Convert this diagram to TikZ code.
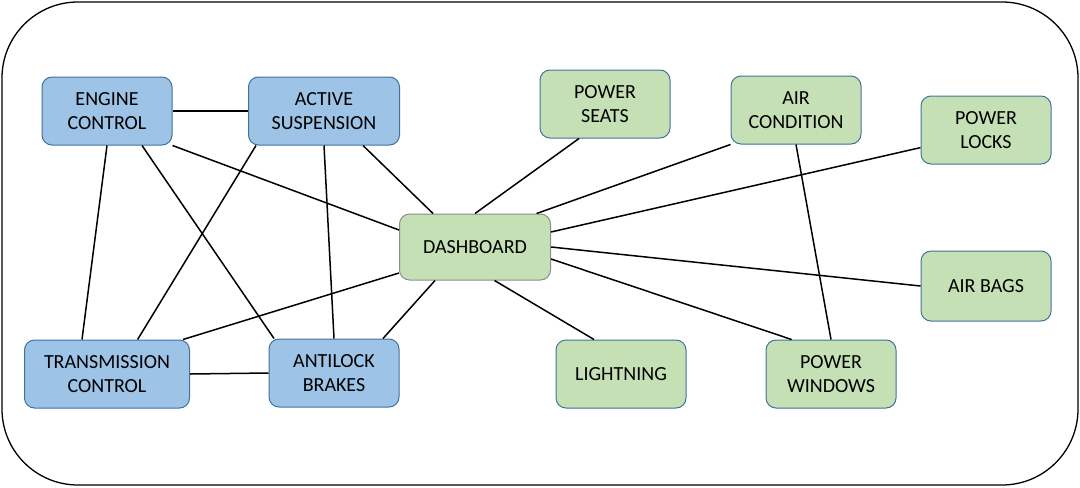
\documentclass[tikz,border=0pt]{standalone}
\usepackage{fontspec}
\setmainfont{Carlito}
\definecolor{ecublue}{HTML}{9DC3E6}
\definecolor{ecugreen}{HTML}{C5E0B4}
\definecolor{ecuedge}{HTML}{41719C}
\definecolor{dashedge}{HTML}{8C8C8C}
\begin{document}
\begin{tikzpicture}[x=0.5pt,y=-0.5pt,
    unit/.style={draw=ecuedge,line width=0.5pt,rounded corners=5pt,align=center,
      minimum width=65pt,minimum height=34pt,inner sep=2pt,
      font=\fontsize{10}{12}\selectfont},
    blueunit/.style={unit,fill=ecublue},
    greenunit/.style={unit,fill=ecugreen},
    wideunit/.style={minimum width=75.5pt}]
  \useasboundingbox (0,0) rectangle (1080,487);
  \draw[line width=0.65pt,rounded corners=38pt] (2,2) rectangle (1078,485);
  \draw
    (107,111) node[blueunit] (ec){ENGINE\\CONTROL}
    (324,111) node[blueunit,wideunit] (as){ACTIVE\\SUSPENSION}
    (107,374) node[blueunit,minimum width=82.5pt] (tc){TRANSMISSION\\CONTROL}
    (334,373) node[blueunit] (ab){ANTILOCK\\BRAKES}
    (475,247) node[greenunit,wideunit,draw=dashedge,minimum height=33pt] (dash){DASHBOARD}
    (605,104) node[greenunit] (ps){POWER\\SEATS}
    (796,110) node[greenunit] (ac){AIR\\CONDITION}
    (986,130) node[greenunit] (pl){POWER\\LOCKS}
    (986,286) node[greenunit,minimum height=35pt] (abg){AIR BAGS}
    (621,374) node[greenunit] (li){LIGHTNING}
    (831,374) node[greenunit] (pw){POWER\\WINDOWS};
  \begin{scope}[line width=0.75pt]
    \draw (ec) to (as);
    \draw (ec.south) to ([xshift=-12.5pt]tc.north);
    \draw ([xshift=17.5pt]ec.south) to ([xshift=-30pt]ab.north);
    \draw (ec.south east) to ([yshift=8.5pt]dash.west);
    \draw ([xshift=-34pt]as.south) to ([xshift=15.3pt]tc.north);
    \draw (as.south) to (ab.north);
    \draw ([xshift=19.5pt]as.south) to ([xshift=-21pt]dash.north);
    \draw (tc.east) to (ab.west);
    \draw ([yshift=-13pt]dash.west) to ([xshift=38pt]tc.north);
    \draw ([xshift=-20pt]dash.south) to ([xshift=24.5pt]ab.north);
    \draw (dash.north) to ([xshift=-13pt]ps.south);
    \draw ([xshift=30.8pt]dash.north) to (ac.south west);
    \draw ([yshift=7.5pt]dash.east) to ([yshift=-8.8pt]pl.west);
    \draw (dash.east) to (abg.west);
    \draw ([yshift=-6pt]dash.east) to ([xshift=-19.7pt]pw.north);
    \draw ([xshift=9.75pt]dash.south) to ([xshift=-13.5pt]li.north);
    \draw (ac.south) to (pw.north);
  \end{scope}
\end{tikzpicture}
\end{document}
